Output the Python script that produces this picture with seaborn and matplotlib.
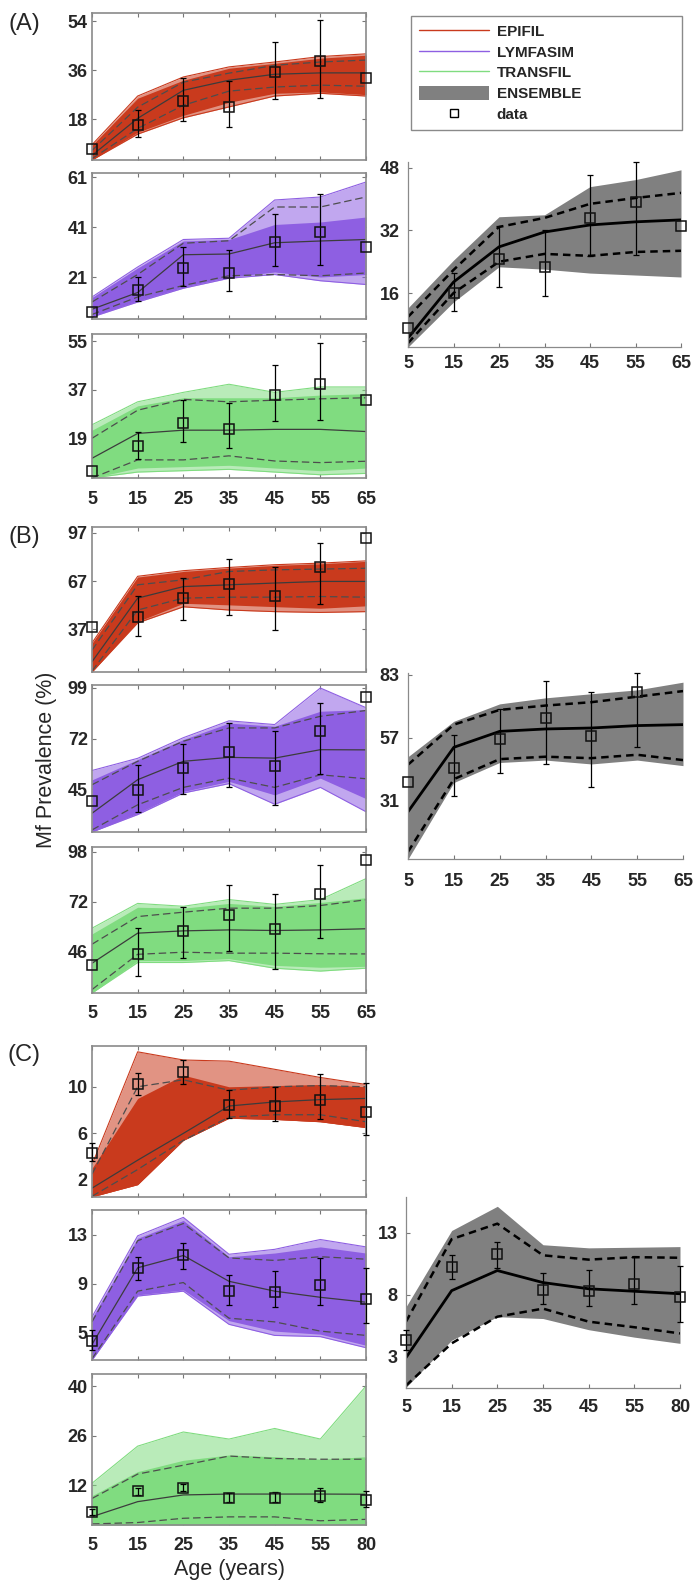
"""
Mf prevalence by age: three single-model ensembles (EPIFIL, LYMFASIM,
TRANSFIL) and the multi-model ENSEMBLE for three sites (A), (B), (C).
"""

import numpy as np
import matplotlib
matplotlib.use('Agg')
import matplotlib.pyplot as plt
import seaborn as sns
from matplotlib.lines import Line2D
from matplotlib.patches import Patch

# Set style
sns.set_style("ticks")
plt.rcParams['font.family'] = ['Liberation Sans', 'DejaVu Sans']
plt.rcParams['font.weight'] = 'bold'

W, H = 697, 1588

# ---------------------------------------------------------------- data ----
AGES_AB = ['5', '15', '25', '35', '45', '55', '65']
AGES_C = ['5', '15', '25', '35', '45', '55', '80']

# observed data (squares) with 95% CI (nan = no bar)
A_data = [7.0, 16.0, 24.7, 22.6, 35.2, 39.2, 33.2]
A_data_lo = [np.nan, 11.5, 17.5, 15.3, 25.4, 25.8, np.nan]
A_data_hi = [np.nan, 21.2, 33.2, 32.0, 46.2, 54.4, np.nan]

B_data = [38.5, 44.5, 56.5, 65.0, 57.5, 76.0, 94.0]
B_data_lo = [np.nan, 33.0, 42.5, 46.0, 36.5, 53.0, np.nan]
B_data_hi = [np.nan, 58.0, 69.0, 80.5, 76.0, 91.0, np.nan]

C_data = [4.35, 10.25, 11.3, 8.4, 8.35, 8.9, 7.8]
C_data_lo = [3.6, 9.3, 10.2, 7.3, 7.1, 7.25, 5.85]
C_data_hi = [5.2, 11.2, 12.3, 9.75, 10.0, 11.1, 10.3]

# site A - EPIFIL
A_epi_mean = [4.7, 18.3, 28.6, 32.3, 34.5, 35.0, 35.0]
A_epi_ci_lo = [3.5, 14.6, 23.1, 28.3, 29.8, 30.5, 30.1]
A_epi_ci_hi = [6.5, 22.4, 31.6, 34.9, 37.8, 39.0, 39.7]
A_epi_env_lo = [3.0, 13.2, 19.4, 24.2, 27.5, 28.0, 27.0]
A_epi_env_hi = [8.4, 25.7, 32.3, 36.7, 38.5, 40.4, 41.5]
A_epi_out_lo = [3.0, 12.5, 18.5, 22.5, 26.5, 27.5, 26.5]
A_epi_out_hi = [8.6, 26.5, 33.5, 37.2, 39.0, 41.0, 42.0]

# site A - LYMFASIM
A_lym_mean = [8.1, 14.8, 29.9, 30.2, 34.7, 35.4, 36.0]
A_lym_ci_lo = [6.0, 13.0, 17.6, 21.5, 22.0, 21.5, 22.6]
A_lym_ci_hi = [11.0, 22.0, 34.5, 35.5, 49.0, 49.0, 53.0]
A_lym_env_lo = [5.3, 11.4, 16.9, 21.0, 23.0, 21.0, 22.0]
A_lym_env_hi = [12.8, 24.6, 35.4, 36.0, 42.0, 43.0, 45.0]
A_lym_out_lo = [5.0, 11.0, 16.5, 20.5, 22.0, 19.5, 18.0]
A_lym_out_hi = [13.0, 25.0, 36.0, 36.5, 51.8, 53.0, 59.0]

# site A - TRANSFIL
A_tra_mean = [11.6, 20.8, 22.0, 22.0, 22.3, 22.3, 21.5]
A_tra_ci_lo = [4.3, 11.0, 11.0, 12.5, 10.6, 10.0, 10.5]
A_tra_ci_hi = [19.0, 29.4, 33.4, 32.5, 33.1, 33.6, 34.0]
A_tra_env_lo = [4.3, 8.0, 8.5, 9.0, 8.0, 7.0, 8.0]
A_tra_env_hi = [22.0, 31.0, 34.0, 34.0, 34.0, 35.0, 35.5]
A_tra_out_lo = [4.3, 6.5, 7.0, 7.5, 6.5, 5.5, 6.0]
A_tra_out_hi = [24.0, 32.5, 36.0, 39.0, 36.0, 38.0, 38.0]

# site A - ENSEMBLE
A_ens_mean = [4.5, 18.8, 27.8, 31.6, 33.4, 34.2, 34.7]
A_ens_ci_lo = [3.2, 16.0, 24.0, 26.0, 25.5, 26.5, 26.8]
A_ens_ci_hi = [9.9, 21.9, 32.9, 35.2, 38.8, 40.3, 41.6]
A_ens_lo = [2.2, 13.7, 22.7, 22.1, 21.1, 20.6, 20.1]
A_ens_hi = [12.2, 24.4, 35.5, 36.0, 43.2, 45.0, 47.5]

# site B - EPIFIL
B_epi_mean = [16.8, 56.4, 63.6, 64.7, 65.8, 66.8, 66.8]
B_epi_ci_lo = [11.0, 49.0, 56.4, 57.0, 57.0, 57.4, 57.0]
B_epi_ci_hi = [24.0, 64.7, 67.8, 73.0, 74.0, 74.5, 75.0]
B_epi_env_lo = [10.4, 41.8, 53.2, 52.2, 51.1, 50.1, 51.6]
B_epi_env_hi = [28.3, 69.5, 73.0, 75.1, 76.8, 77.8, 79.3]
B_epi_out_lo = [10.4, 41.0, 51.0, 49.0, 48.0, 47.5, 48.0]
B_epi_out_hi = [28.5, 70.0, 73.5, 75.5, 77.2, 78.2, 79.6]

# site B - LYMFASIM
B_lym_mean = [32.2, 50.1, 59.9, 62.0, 61.6, 66.1, 66.0]
B_lym_ci_lo = [23.3, 36.7, 46.0, 50.9, 46.0, 52.7, 50.6]
B_lym_ci_hi = [47.4, 59.9, 70.6, 77.7, 77.7, 83.9, 87.0]
B_lym_env_lo = [22.2, 32.2, 43.8, 49.2, 42.0, 50.9, 40.0]
B_lym_env_hi = [50.0, 60.8, 71.5, 80.3, 78.6, 86.6, 87.5]
B_lym_out_lo = [22.2, 31.5, 43.0, 48.0, 37.0, 46.0, 33.0]
B_lym_out_hi = [55.0, 61.5, 72.5, 81.5, 79.5, 99.0, 88.5]

# site B - TRANSFIL
B_tra_mean = [39.6, 55.4, 56.6, 57.1, 56.8, 57.1, 57.7]
B_tra_ci_lo = [25.8, 44.3, 45.4, 44.9, 44.9, 44.6, 44.5]
B_tra_ci_hi = [49.6, 64.1, 66.4, 68.5, 68.5, 69.9, 72.9]
B_tra_env_lo = [24.0, 41.0, 41.0, 42.0, 38.5, 37.5, 38.0]
B_tra_env_hi = [55.0, 69.0, 68.5, 71.0, 69.4, 71.5, 74.0]
B_tra_out_lo = [24.0, 40.0, 40.0, 41.0, 37.0, 35.5, 37.0]
B_tra_out_hi = [58.0, 71.0, 69.5, 73.0, 70.5, 73.0, 84.0]

# site B - ENSEMBLE
B_ens_mean = [26.3, 53.0, 59.6, 60.6, 61.0, 62.0, 62.4]
B_ens_ci_lo = [9.7, 39.8, 48.1, 49.1, 48.5, 49.9, 47.7]
B_ens_ci_hi = [45.8, 62.4, 68.5, 70.3, 71.7, 74.0, 76.3]
B_ens_lo = [6.7, 38.4, 46.7, 47.7, 46.1, 47.7, 45.4]
B_ens_hi = [49.1, 63.8, 71.0, 73.5, 75.2, 76.8, 80.0]

# site C - EPIFIL
C_epi_mean = [1.3, 3.7, 6.0, 8.35, 8.7, 8.9, 9.0]
C_epi_ci_lo = [0.6, 2.9, 5.4, 7.4, 7.6, 7.6, 7.0]
C_epi_ci_hi = [2.5, 10.0, 10.6, 9.7, 10.0, 10.1, 10.0]
C_epi_env_lo = [0.55, 1.6, 5.4, 7.3, 7.2, 7.0, 6.5]
C_epi_env_hi = [3.0, 9.0, 11.0, 10.0, 10.1, 10.2, 10.0]
C_epi_out_lo = [0.55, 1.6, 5.4, 7.3, 7.2, 7.0, 6.5]
C_epi_out_hi = [3.3, 13.0, 12.3, 12.2, 11.5, 10.8, 10.2]

# site C - LYMFASIM
C_lym_mean = [4.07, 10.3, 11.3, 9.2, 8.4, 7.9, 7.5]
C_lym_ci_lo = [2.9, 8.4, 9.1, 6.2, 5.9, 5.15, 4.8]
C_lym_ci_hi = [5.9, 12.5, 13.9, 11.1, 10.9, 11.2, 11.0]
C_lym_env_lo = [2.8, 8.1, 8.5, 6.0, 5.15, 4.9, 4.0]
C_lym_env_hi = [6.2, 12.7, 14.15, 11.2, 11.5, 12.0, 11.5]
C_lym_out_lo = [2.8, 8.0, 8.4, 5.7, 4.8, 4.7, 3.8]
C_lym_out_hi = [6.3, 12.9, 14.4, 11.4, 11.8, 12.6, 12.0]

# site C - TRANSFIL
C_tra_mean = [3.05, 7.3, 9.2, 9.45, 9.45, 9.45, 9.4]
C_tra_ci_lo = [1.0, 1.4, 2.6, 3.0, 3.0, 1.9, 2.3]
C_tra_ci_hi = [8.2, 15.1, 17.6, 20.2, 19.5, 19.3, 19.3]
C_tra_env_lo = [0.7, 0.7, 0.7, 0.7, 0.7, 0.7, 0.7]
C_tra_env_hi = [9.0, 15.8, 19.0, 20.5, 20.0, 19.3, 20.0]
C_tra_out_lo = [0.7, 0.7, 0.7, 0.7, 0.7, 0.7, 0.7]
C_tra_out_hi = [12.5, 23.0, 27.0, 25.0, 28.0, 25.0, 40.0]

# site C - ENSEMBLE
C_ens_mean = [2.95, 8.35, 9.97, 9.0, 8.5, 8.3, 8.1]
C_ens_ci_lo = [0.7, 4.1, 6.25, 6.9, 5.85, 5.4, 4.9]
C_ens_ci_hi = [5.85, 12.5, 13.75, 11.2, 10.85, 11.05, 11.0]
C_ens_lo = [0.55, 4.35, 6.25, 6.1, 5.2, 4.6, 4.1]
C_ens_hi = [7.05, 13.2, 15.15, 12.05, 11.8, 11.85, 11.9]

# ---------------------------------------------------------------- style ---
EPIFIL_COLOR = '#c93a1d'
LYMFASIM_COLOR = '#8e5fe2'
TRANSFIL_COLOR = '#80dc80'
ENSEMBLE_COLOR = '#808080'
X = np.arange(7)


def add_px_axes(fig, left, top, right, bottom):
    """Axes placed by pixel box (left, top, right, bottom)"""
    return fig.add_axes([left / W, 1 - bottom / H, (right - left) / W, (bottom - top) / H])


def style_model_axes(ax, ylim, yticks, xlabels):
    ax.set_xlim(0, 6)
    ax.set_ylim(*ylim)
    ax.set_yticks(yticks)
    ax.set_xticks(X)
    ax.set_xticklabels(xlabels if xlabels else [])
    ax.tick_params(direction='in', top=True, right=True, length=3, width=0.8,
                   color='#777777', labelsize=13)
    ax.tick_params(axis='y', pad=3)
    ax.tick_params(axis='x', pad=9)
    for s in ax.spines.values():
        s.set_color('#8a8a8a')
        s.set_linewidth(1.2)
    ax.set_xlabel('')
    ax.set_ylabel('')


def style_ens_axes(ax, ylim, yticks, xlabels, xpad):
    ax.set_xlim(0, 6)
    ax.set_ylim(*ylim)
    ax.set_yticks(yticks)
    ax.set_xticks(X)
    ax.set_xticklabels(xlabels)
    ax.tick_params(direction='in', length=3, width=0.8, color='#777777', labelsize=13)
    ax.tick_params(axis='y', pad=6)
    ax.tick_params(axis='x', pad=xpad)
    sns.despine(ax=ax, top=True, right=True)
    for side in ('left', 'bottom'):
        ax.spines[side].set_color('#8a8a8a')
        ax.spines[side].set_linewidth(0.9)
    ax.set_xlabel('')
    ax.set_ylabel('')


def draw_model(ax, color, mean, ci_lo, ci_hi, env_lo, env_hi, out_lo, out_hi):
    # sparse outer runs, dense inner runs
    ax.fill_between(X, out_lo, out_hi, color=color, alpha=0.55, lw=0)
    ax.fill_between(X, env_lo, env_hi, color=color, lw=0)
    sns.lineplot(x=X, y=out_hi, ax=ax, color=color, linewidth=0.8)
    sns.lineplot(x=X, y=out_lo, ax=ax, color=color, linewidth=0.8)
    sns.lineplot(x=X, y=mean, ax=ax, color='#3c3c3c', linewidth=0.9)
    for ci in (ci_lo, ci_hi):
        sns.lineplot(x=X, y=ci, ax=ax, color='#4d4d4d', linewidth=0.9,
                     linestyle=(0, (6, 3)))


def draw_ensemble(ax, mean, ci_lo, ci_hi, lo, hi):
    ax.fill_between(X, lo, hi, color=ENSEMBLE_COLOR, lw=0)
    sns.lineplot(x=X, y=mean, ax=ax, color='black', linewidth=2.0)
    for ci in (ci_lo, ci_hi):
        sns.lineplot(x=X, y=ci, ax=ax, color='black', linewidth=1.8,
                     linestyle=(0, (3, 2)))


def draw_data(ax, pts, lo, hi):
    pts = np.asarray(pts, dtype=float)
    top = ax.get_ylim()[1]
    hi = np.minimum(np.nan_to_num(np.asarray(hi, dtype=float), nan=0), top)
    lo = np.asarray(lo, dtype=float)
    has_bar = ~np.isnan(lo)
    ax.errorbar(X[has_bar], pts[has_bar],
                yerr=[pts[has_bar] - lo[has_bar], hi[has_bar] - pts[has_bar]],
                fmt='none', ecolor='black', elinewidth=0.9, capsize=2,
                capthick=0.9, zorder=4, clip_on=False)
    inside = pts <= top
    ax.plot(X[inside], pts[inside], 's', mfc='none', mec='#111111', ms=6.5,
            mew=1.1, zorder=5, clip_on=False)


fig = plt.figure(figsize=(W / 100, H / 100), dpi=100)

# left column: (data, models, ylims, yticks, pixel boxes)
sites = [
    ('A', (A_data, A_data_lo, A_data_hi), AGES_AB, [
        (EPIFIL_COLOR, (A_epi_mean, A_epi_ci_lo, A_epi_ci_hi, A_epi_env_lo, A_epi_env_hi,
                        A_epi_out_lo, A_epi_out_hi), (3, 57), [18, 36, 54], (13, 160)),
        (LYMFASIM_COLOR, (A_lym_mean, A_lym_ci_lo, A_lym_ci_hi, A_lym_env_lo, A_lym_env_hi,
                          A_lym_out_lo, A_lym_out_hi), (4.2, 62.6), [21, 41, 61], (173, 319)),
        (TRANSFIL_COLOR, (A_tra_mean, A_tra_ci_lo, A_tra_ci_hi, A_tra_env_lo, A_tra_env_hi,
                          A_tra_out_lo, A_tra_out_hi), (4.3, 57.6), [19, 37, 55], (334, 478)),
    ], (A_ens_mean, A_ens_ci_lo, A_ens_ci_hi, A_ens_lo, A_ens_hi),
        (2.2, 49.5), [16, 32, 48], (408, 162, 681, 347), 6, 24),
    ('B', (B_data, B_data_lo, B_data_hi), AGES_AB, [
        (EPIFIL_COLOR, (B_epi_mean, B_epi_ci_lo, B_epi_ci_hi, B_epi_env_lo, B_epi_env_hi,
                        B_epi_out_lo, B_epi_out_hi), (10.4, 100.7), [37, 67, 97], (527, 672)),
        (LYMFASIM_COLOR, (B_lym_mean, B_lym_ci_lo, B_lym_ci_hi, B_lym_env_lo, B_lym_env_hi,
                          B_lym_out_lo, B_lym_out_hi), (22.2, 100.6), [45, 72, 99], (685, 832)),
        (TRANSFIL_COLOR, (B_tra_mean, B_tra_ci_lo, B_tra_ci_hi, B_tra_env_lo, B_tra_env_hi,
                          B_tra_out_lo, B_tra_out_hi), (24, 100.6), [46, 72, 98], (847, 993)),
    ], (B_ens_mean, B_ens_ci_lo, B_ens_ci_hi, B_ens_lo, B_ens_hi),
        (6.7, 83.8), [31, 57, 83], (408, 673, 683, 859), 10, 537),
    ('C', (C_data, C_data_lo, C_data_hi), AGES_C, [
        (EPIFIL_COLOR, (C_epi_mean, C_epi_ci_lo, C_epi_ci_hi, C_epi_env_lo, C_epi_env_hi,
                        C_epi_out_lo, C_epi_out_hi), (0.54, 13.5), [2, 6, 10], (1046, 1197)),
        (LYMFASIM_COLOR, (C_lym_mean, C_lym_ci_lo, C_lym_ci_hi, C_lym_env_lo, C_lym_env_hi,
                          C_lym_out_lo, C_lym_out_hi), (2.8, 15.0), [5, 9, 13], (1210, 1360)),
        (TRANSFIL_COLOR, (C_tra_mean, C_tra_ci_lo, C_tra_ci_hi, C_tra_env_lo, C_tra_env_hi,
                          C_tra_out_lo, C_tra_out_hi), (0.7, 43.4), [12, 26, 40], (1374, 1525)),
    ], (C_ens_mean, C_ens_ci_lo, C_ens_ci_hi, C_ens_lo, C_ens_hi),
        (0.5, 15.9), [3, 8, 13], (406, 1197, 680, 1388), 8, 1055),
]

for letter, data, ages, models, ens, ens_ylim, ens_ticks, ens_box, ens_pad, letter_y in sites:
    for i, (color, series, ylim, yticks, (top, bottom)) in enumerate(models):
        ax = add_px_axes(fig, 92, top, 366, bottom)
        draw_model(ax, color, *series)
        style_model_axes(ax, ylim, yticks, ages if i == 2 else None)
        draw_data(ax, *data)

    ax = add_px_axes(fig, *ens_box)
    draw_ensemble(ax, *ens)
    style_ens_axes(ax, ens_ylim, ens_ticks, ages, ens_pad)
    draw_data(ax, *data)

    fig.text(24 / W, 1 - letter_y / H, f'({letter})', fontsize=17, weight='normal',
             ha='center', va='center')

fig.text(47 / W, 1 - 760 / H, 'Mf Prevalence (%)', rotation=90, fontsize=15.5,
         weight='normal', ha='center', va='center')
fig.text(229 / W, 1 - 1570 / H, 'Age (years)', fontsize=15.5, weight='normal',
         ha='center', va='center')

# legend
handles = [
    Line2D([], [], color=EPIFIL_COLOR, lw=1),
    Line2D([], [], color=LYMFASIM_COLOR, lw=1),
    Line2D([], [], color=TRANSFIL_COLOR, lw=1),
    Patch(facecolor=ENSEMBLE_COLOR, edgecolor='none'),
    Line2D([], [], ls='none', marker='s', mfc='none', mec='black', ms=6),
]
labels = ['EPIFIL', 'LYMFASIM', 'TRANSFIL', 'ENSEMBLE', 'data']
leg = fig.legend(handles, labels, loc='upper left',
                 bbox_to_anchor=(411 / W, 1 - 126 / H, 271 / W, 110 / H),
                 mode='expand', fancybox=False, framealpha=1, edgecolor='#8a8a8a',
                 prop={'size': 11, 'weight': 'bold'}, handlelength=4.6,
                 handleheight=1.0, handletextpad=0.5, labelspacing=0.38,
                 borderpad=0.5, borderaxespad=0)
leg.get_frame().set_linewidth(1.0)

plt.savefig('out.png', dpi=100)
plt.close()
